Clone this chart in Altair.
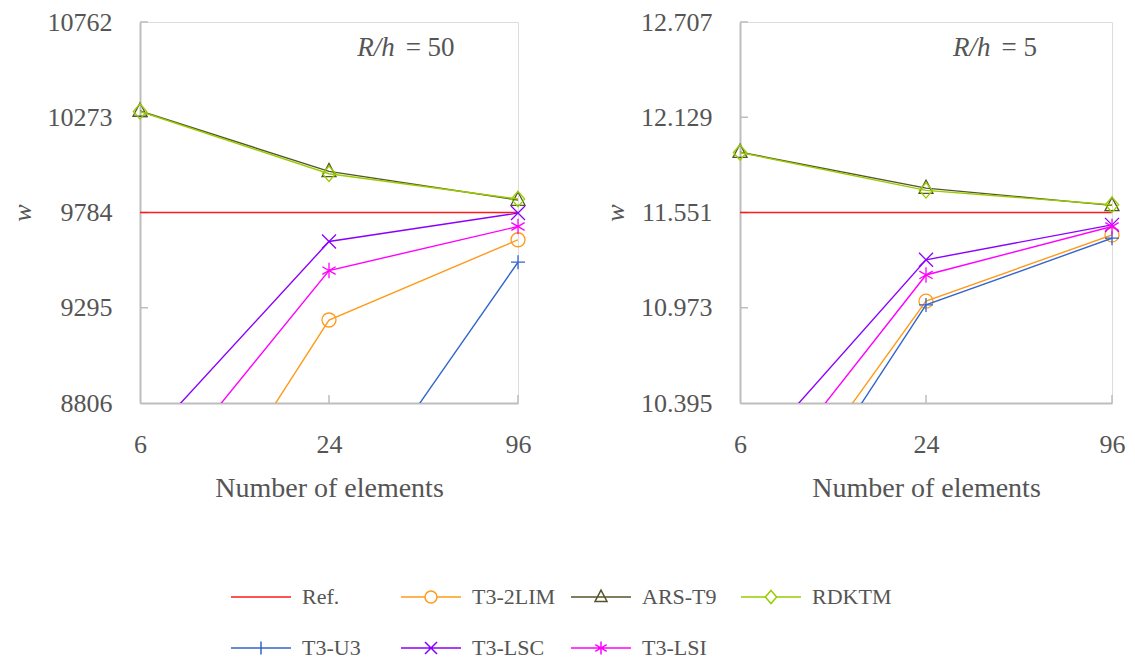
import altair as alt
import pandas as pd

ns = [6, 24, 96]
series = ["Ref.", "T3-2LIM", "ARS-T9", "RDKTM", "T3-U3", "T3-LSC", "T3-LSI"]
colors = ["#ff1a1a", "#ff9a1a", "#55552b", "#99cc00", "#3366cc", "#8a00ff", "#ff00ff"]

# R/h = 50
left_ref = [9784, 9784, 9784]
left_t3_2lim = [7722, 9232, 9644]
left_ars_t9 = [10305, 9995, 9848]
left_rdktm = [10303, 9983, 9853]
left_t3_u3 = [7000, 8136, 9529]
left_t3_lsc = [8578, 9635, 9781]
left_t3_lsi = [8292, 9486, 9712]
left_ticks = [8806, 9295, 9784, 10273, 10762]

# R/h = 5
right_ref = [11.551, 11.551, 11.551]
right_t3_2lim = [9.446, 11.013, 11.415]
right_ars_t9 = [11.917, 11.699, 11.594]
right_rdktm = [11.915, 11.685, 11.598]
right_t3_u3 = [9.267, 10.990, 11.395]
right_t3_lsc = [9.992, 11.264, 11.476]
right_t3_lsi = [9.735, 11.172, 11.466]
right_ticks = [10.395, 10.973, 11.551, 12.129, 12.707]

# annotation anchor (data coordinates)
left_note = {"x": 40, "y": 10628, "a": "R/h", "b": "= 50"}
right_note = {"x": 40, "y": 12.549, "a": "R/h", "b": "= 5"}

marker_paths = [
    None,
    "M1,0A1,1,0,1,1,-1,0A1,1,0,1,1,1,0",
    "M0,-1.15L1,0.75L-1,0.75Z",
    "M0,-1.1L0.95,0L0,1.1L-0.95,0Z",
    "M-1,0L1,0M0,-1L0,1",
    "M-1,-1L1,1M-1,1L1,-1",
    "M0,-1.1L0,1.1M-0.95,-0.55L0.95,0.55M-0.95,0.55L0.95,-0.55",
]
legend_paths = [
    "M-1,0L9,0",
    "M-1,0L3,0M5,0L9,0M5,0A1,1,0,1,1,3,0A1,1,0,1,1,5,0",
    "M-1,0L9,0M4,-1.15L5,0.75L3,0.75Z",
    "M-1,0L3.05,0M4.95,0L9,0M4,-1.1L4.95,0L4,1.1L3.05,0Z",
    "M-1,0L9,0M4,-1.1L4,1.1",
    "M-1,0L9,0M3,-1L5,1M3,1L5,-1",
    "M-1,0L9,0M4,-1.1L4,1.1M3.05,-0.55L4.95,0.55M3.05,0.55L4.95,-0.55",
]

FONT = "Liberation Serif"
TXT = "#555555"
AX = "#bdbdbd"


def make_df(vals):
    rows = []
    for s, v in zip(series, vals):
        for n, y in zip(ns, v):
            rows.append({"series": s, "n": n, "value": y})
    return pd.DataFrame(rows)


def panel(vals, ticks, fmt, width, note, with_legend):
    df = make_df(vals)
    ymin, ymax = ticks[0], ticks[-1]
    xs = alt.Scale(type="log", domain=[ns[0], ns[-1]], nice=False)
    ys = alt.Scale(domain=[ymin, ymax], nice=False, zero=False)
    xaxis = alt.Axis(values=ns, format="d", title="Number of elements", grid=False,
                     tickSize=0, labelPadding=28, titlePadding=17, domainColor=AX,
                     domainWidth=2, labelFontSize=26, titleFontSize=28, labelFont=FONT,
                     titleFont=FONT, labelColor=TXT, titleColor=TXT, titleFontWeight="normal",
                     labelFlush=False)
    yaxis = alt.Axis(values=ticks, format=fmt, title="w", grid=False, tickSize=0,
                     labelPadding=28, titlePadding=12, domainColor=AX, domainWidth=2,
                     labelFontSize=26, titleFontSize=26, labelFont=FONT, titleFont=FONT,
                     labelColor=TXT, titleColor=TXT, titleFontStyle="italic",
                     titleFontWeight="normal", labelFlush=False)
    X = alt.X("n:Q", scale=xs, axis=xaxis)
    Y = alt.Y("value:Q", scale=ys, axis=yaxis)
    base = alt.Chart(df)
    layers = []
    # inward ticks
    tdf = pd.DataFrame({"value": ticks[1:]})
    layers.append(alt.Chart(tdf).mark_rule(color=AX, strokeWidth=1.5).encode(
        y=Y, x=alt.value(0), x2=alt.value(8)))
    xdf = pd.DataFrame({"n": ns[1:]})
    layers.append(alt.Chart(xdf).mark_rule(color=AX, strokeWidth=1.5).encode(
        x=X, y=alt.value(381), y2=alt.value(373)))
    for s, c, p in zip(series, colors, marker_paths):
        sub = base.transform_filter(alt.datum.series == s)
        layers.append(sub.mark_line(color=c, strokeWidth=1.4, clip=True).encode(x=X, y=Y))
        if p is not None:
            layers.append(sub.transform_filter(alt.datum.value >= ymin).mark_point(
                shape=p, color=c, filled=False, size=196, strokeWidth=1.3, opacity=1
            ).encode(x=X, y=Y))
    ndf = pd.DataFrame([note])
    layers.append(alt.Chart(ndf).mark_text(font=FONT, fontSize=27, fontStyle="italic",
                                           color=TXT, align="right", dx=-4).encode(
        x=alt.X("x:Q", scale=xs, axis=xaxis), y=alt.Y("y:Q", scale=ys, axis=yaxis),
        text="a:N"))
    layers.append(alt.Chart(ndf).mark_text(font=FONT, fontSize=27,
                                           color=TXT, align="left", dx=7).encode(
        x=alt.X("x:Q", scale=xs, axis=xaxis), y=alt.Y("y:Q", scale=ys, axis=yaxis),
        text="b:N"))
    if with_legend:
        leg = alt.Legend(title=None, orient="none", legendX=86, legendY=564, columns=4,
                         direction="horizontal", gridAlign="all", columnPadding=10,
                         rowPadding=29, symbolSize=144, symbolStrokeWidth=1.5,
                         labelOffset=54, labelFontSize=22, labelFont=FONT, labelColor=TXT,
                         symbolFillColor="transparent", symbolOpacity=1)
        layers.append(base.transform_filter("false").mark_point(
            filled=False, size=144, strokeWidth=1.5).encode(
            x=X, y=Y,
            color=alt.Color("series:N", scale=alt.Scale(domain=series, range=colors),
                            legend=leg, sort=series),
            shape=alt.Shape("series:N", scale=alt.Scale(domain=series, range=legend_paths),
                            legend=leg, sort=series)))
    return alt.layer(*layers).properties(width=width, height=381)


left_vals = [left_ref, left_t3_2lim, left_ars_t9, left_rdktm, left_t3_u3, left_t3_lsc, left_t3_lsi]
right_vals = [right_ref, right_t3_2lim, right_ars_t9, right_rdktm, right_t3_u3, right_t3_lsc, right_t3_lsi]

left = panel(left_vals, left_ticks, "d", 378, left_note, True)
right = panel(right_vals, right_ticks, ".3f", 372, right_note, False)

chart = alt.hconcat(left, right, spacing=70, padding=0).configure_view(stroke=None).configure(
    background="white")

chart.save("out.html", embed_options={"renderer": "svg", "actions": False})
